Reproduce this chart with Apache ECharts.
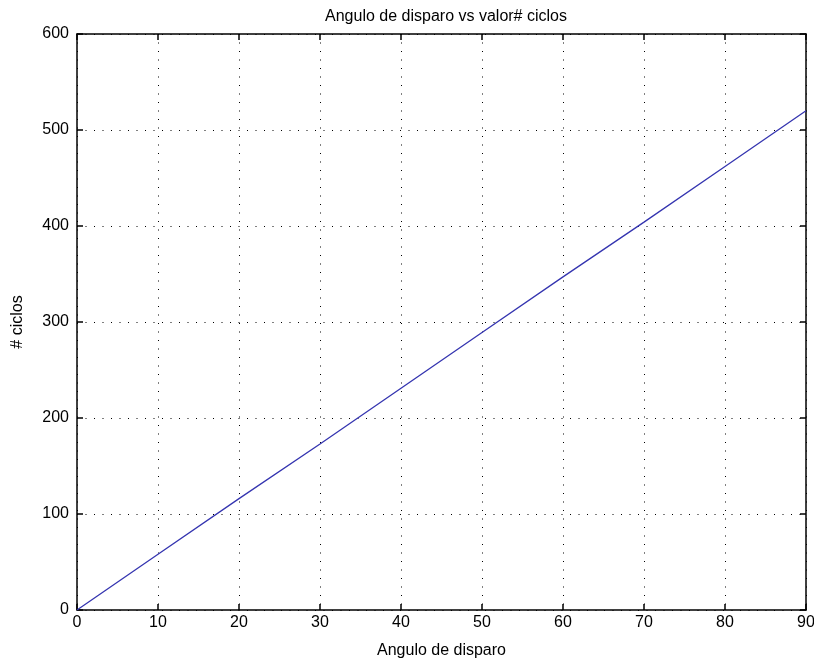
<!DOCTYPE html>
<html>
<head>
<meta charset="utf-8">
<script src="https://cdn.jsdelivr.net/npm/echarts@6/dist/echarts.min.js"></script>
<style>
html,body{margin:0;padding:0;background:#fff;}
#c{width:814px;height:659px;}
</style>
</head>
<body>
<div id="c"></div>
<script>
const titleText = "Angulo de disparo vs valor# ciclos";
const xName = "Angulo de disparo";
const yName = "# ciclos";
const angles = [0, 10, 20, 30, 40, 50, 60, 70, 80, 90];
const cycles = [0, 58, 116, 173, 231, 289, 347, 404, 462, 520];

const font = "Liberation Sans, Arial, sans-serif";
const grid = {left: 77, top: 34, right: 8, bottom: 49, outerBoundsMode: 'none', containLabel: false};
const dotted = {color: '#000', width: 1, type: [1, 7.5]};
const axisLine = {show: true, onZero: false, lineStyle: {color: '#000', width: 1.5}};
const axisTick = {show: true, inside: true, length: 6, lineStyle: {color: '#000', width: 1.5}};

const chart = echarts.init(document.getElementById('c'));
chart.setOption({
  backgroundColor: '#fff',
  animation: false,
  title: {
    text: titleText, left: 441, top: 4, textAlign: 'center',
    textStyle: {fontFamily: font, fontSize: 16, fontWeight: 'normal', color: '#000'}
  },
  grid: grid,
  xAxis: [{
    type: 'value', min: 0, max: 90, interval: 10,
    name: xName, nameLocation: 'middle', nameGap: 33,
    nameTextStyle: {fontFamily: font, fontSize: 16, color: '#000'},
    axisLine: axisLine, axisTick: axisTick,
    axisLabel: {fontFamily: font, fontSize: 16, color: '#000', margin: 5},
    splitLine: {show: true, lineStyle: dotted}
  }, {
    type: 'value', min: 0, max: 90, interval: 10, position: 'top',
    axisLine: axisLine, axisTick: axisTick,
    axisLabel: {show: false}, splitLine: {show: false}
  }],
  yAxis: [{
    type: 'value', min: 0, max: 600, interval: 100,
    name: yName, nameLocation: 'middle', nameGap: 51, nameRotate: 90,
    nameTextStyle: {fontFamily: font, fontSize: 16, color: '#000'},
    axisLine: axisLine, axisTick: axisTick,
    axisLabel: {fontFamily: font, fontSize: 16, color: '#000', margin: 8},
    splitLine: {show: true, lineStyle: dotted}
  }, {
    type: 'value', min: 0, max: 600, interval: 100, position: 'right',
    axisLine: axisLine, axisTick: axisTick,
    axisLabel: {show: false}, splitLine: {show: false}
  }],
  series: [{
    type: 'line',
    data: angles.map((a, i) => [a, cycles[i]]),
    showSymbol: false,
    lineStyle: {color: '#3535b0', width: 1.3}
  }]
});
</script>
</body>
</html>
